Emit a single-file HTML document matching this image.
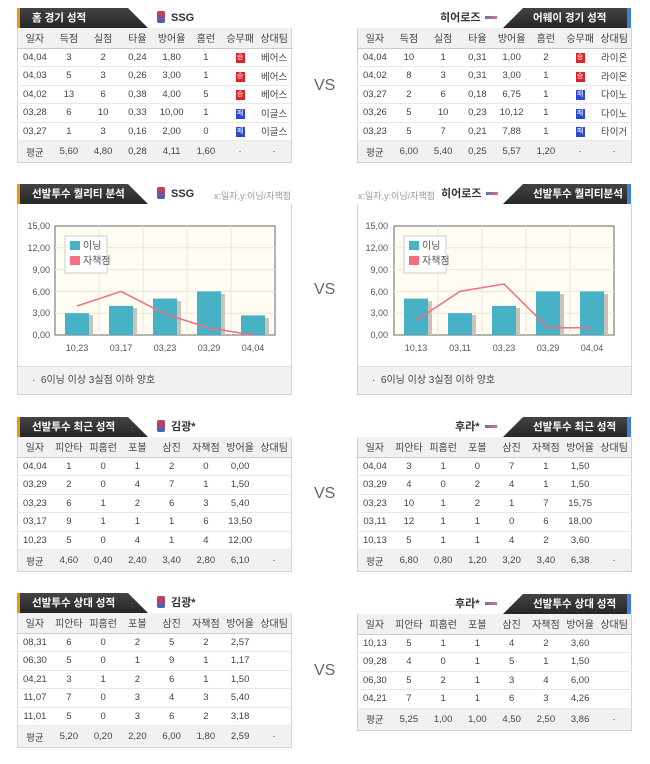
<!DOCTYPE html>
<html><head><meta charset="utf-8">
<style>
*{margin:0;padding:0;box-sizing:border-box}
body{width:650px;height:764px;background:#fff;position:relative;overflow:hidden;font-family:"Liberation Sans","Noto Sans CJK KR",sans-serif;color:#444}
.tabL,.tabR{position:absolute;height:20px;background:linear-gradient(#444,#262626);color:#fff;font-weight:bold;font-size:10.5px;line-height:20px}
.tabL{left:17px;width:131px;clip-path:polygon(0 0,111px 0,131px 20px,0 20px);border-left:3px solid #f39800;padding-left:12px}
.tabR{left:503px;width:128px;clip-path:polygon(20px 0,128px 0,128px 20px,0 20px);border-right:4px solid #3d7fd9;padding-left:30px}
.team{position:absolute;font-size:11px;font-weight:bold;color:#333;line-height:20px}
.ic{display:inline-block;width:8px;height:12px;background:linear-gradient(#e33,#36c);border-radius:2px;vertical-align:-2px;margin-right:6px}
.ln{display:inline-block;width:12px;height:3px;background:linear-gradient(90deg,#57a,#e68);vertical-align:2px;margin-left:5px}
table{position:absolute;border-collapse:collapse;table-layout:fixed;font-size:9.5px;border:1px solid #d4d4d4;border-top:none}
td{text-align:center;height:18.5px;border-bottom:1px solid #e8e8e8;white-space:nowrap;overflow:hidden}
tr.h td{background:#f1f1f1;height:20px;border-bottom:1px solid #ccc;font-size:10px}
tr.a td{background:#f1f1f1;height:22px;border-bottom:none}
.w,.l{display:inline-block;width:9px;height:10px;color:#fff;font-size:7px;line-height:10px}
.w{background:#e0232a}.l{background:#2b47d6}
.vs{position:absolute;left:314px;font-size:16px;color:#666}
.box{position:absolute;border:1px solid #d4d4d4;border-top:none}
.foot{position:absolute;left:0;right:0;bottom:0;height:28px;background:#f1f1f1;border-top:1px solid #ddd;font-size:10px;line-height:28px;padding-left:14px}
.sub{position:absolute;font-size:9px;color:#999;white-space:nowrap}
</style></head><body>

<div class="tabL" style="top:8px">홈 경기 성적</div>
<div class="team" style="left:157px;top:8px"><span class="ic"></span>SSG</div>
<table style="left:17px;top:28px;width:275px">
<tr class="h"><td>일자</td><td>득점</td><td>실점</td><td>타율</td><td>방어율</td><td>홈런</td><td>승무패</td><td>상대팀</td></tr>
<tr><td>04,04</td><td>3</td><td>2</td><td>0,24</td><td>1,80</td><td>1</td><td><span class="w">승</span></td><td>베어스</td></tr>
<tr><td>04,03</td><td>5</td><td>3</td><td>0,26</td><td>3,00</td><td>1</td><td><span class="w">승</span></td><td>베어스</td></tr>
<tr><td>04,02</td><td>13</td><td>6</td><td>0,38</td><td>4,00</td><td>5</td><td><span class="w">승</span></td><td>베어스</td></tr>
<tr><td>03,28</td><td>6</td><td>10</td><td>0,33</td><td>10,00</td><td>1</td><td><span class="l">패</span></td><td>이글스</td></tr>
<tr><td>03,27</td><td>1</td><td>3</td><td>0,16</td><td>2,00</td><td>0</td><td><span class="l">패</span></td><td>이글스</td></tr>
<tr class="a"><td>평균</td><td>5,60</td><td>4,80</td><td>0,28</td><td>4,11</td><td>1,60</td><td>·</td><td>·</td></tr>
</table>
<div class="vs" style="top:77px">VS</div>
<div class="team" style="left:440px;top:8px">히어로즈<span class="ln"></span></div>
<div class="tabR" style="top:8px">어웨이 경기 성적</div>
<table style="left:357px;top:28px;width:275px">
<tr class="h"><td>일자</td><td>득점</td><td>실점</td><td>타율</td><td>방어율</td><td>홈런</td><td>승무패</td><td>상대팀</td></tr>
<tr><td>04,04</td><td>10</td><td>1</td><td>0,31</td><td>1,00</td><td>2</td><td><span class="w">승</span></td><td>라이온</td></tr>
<tr><td>04,02</td><td>8</td><td>3</td><td>0,31</td><td>3,00</td><td>1</td><td><span class="w">승</span></td><td>라이온</td></tr>
<tr><td>03,27</td><td>2</td><td>6</td><td>0,18</td><td>6,75</td><td>1</td><td><span class="l">패</span></td><td>다이노</td></tr>
<tr><td>03,26</td><td>5</td><td>10</td><td>0,23</td><td>10,12</td><td>1</td><td><span class="l">패</span></td><td>다이노</td></tr>
<tr><td>03,23</td><td>5</td><td>7</td><td>0,21</td><td>7,88</td><td>1</td><td><span class="l">패</span></td><td>타이거</td></tr>
<tr class="a"><td>평균</td><td>6,00</td><td>5,40</td><td>0,25</td><td>5,57</td><td>1,20</td><td>·</td><td>·</td></tr>
</table>

<div class="tabL" style="top:184px">선발투수 퀄리티 분석</div>
<div class="team" style="left:157px;top:184px"><span class="ic"></span>SSG</div>
<div class="sub" style="left:214px;top:189px">x:일자,y:이닝/자책점</div>
<div class="box" style="left:17px;top:204px;width:275px;height:191px">
<svg width="275" height="191" style="position:absolute;left:0;top:0" font-family="Liberation Sans, Noto Sans CJK KR, sans-serif" font-size="9" fill="#555">
<rect x="37" y="22" width="220" height="109" fill="#fffcf3" stroke="#999" stroke-width="1.5"/>
<g stroke="#ece6d6"><line x1="37" y1="43.8" x2="257" y2="43.8"/><line x1="37" y1="65.6" x2="257" y2="65.6"/><line x1="37" y1="87.4" x2="257" y2="87.4"/><line x1="37" y1="109.2" x2="257" y2="109.2"/><line x1="81" y1="22" x2="81" y2="131"/><line x1="125" y1="22" x2="125" y2="131"/><line x1="169" y1="22" x2="169" y2="131"/><line x1="213" y1="22" x2="213" y2="131"/></g>
<g text-anchor="end"><text x="32" y="25">15,00</text><text x="32" y="47">12,00</text><text x="32" y="69">9,00</text><text x="32" y="91">6,00</text><text x="32" y="112">3,00</text><text x="32" y="134">0,00</text></g>
<g fill="#c9c3b8"><rect x="51" y="111" width="24" height="20"/><rect x="95" y="104" width="24" height="27"/><rect x="139" y="97" width="24" height="34"/><rect x="183" y="90" width="24" height="41"/><rect x="227" y="114" width="24" height="17"/></g>
<g fill="#47b1c5"><rect x="47" y="109.2" width="24" height="21.8"/><rect x="91" y="101.9" width="24" height="29.1"/><rect x="135" y="94.6" width="24" height="36.4"/><rect x="179" y="87.4" width="24" height="43.6"/><rect x="223" y="111.4" width="24" height="19.6"/></g>
<polyline points="59,102 103,87.4 147,110 191,124 235,131" fill="none" stroke="#f36f7f" stroke-width="1.5"/>
<rect x="47" y="32" width="42" height="37" fill="#fff" stroke="#ccc"/>
<rect x="52" y="37" width="10" height="9" fill="#47b1c5"/><text x="65" y="45" font-size="10">이닝</text>
<rect x="52" y="52" width="10" height="9" fill="#f36f7f"/><text x="65" y="60" font-size="10">자책점</text>
<g text-anchor="middle"><text x="59" y="147">10,23</text><text x="103" y="147">03,17</text><text x="147" y="147">03,23</text><text x="191" y="147">03,29</text><text x="235" y="147">04,04</text></g>
</svg>
<div class="foot">· &nbsp;6이닝 이상 3실점 이하 양호</div>
</div>
<div class="vs" style="top:281px">VS</div>
<div class="sub" style="left:358px;top:189px">x:일자,y:이닝/자책점</div>
<div class="team" style="left:441px;top:184px">히어로즈<span class="ln"></span></div>
<div class="tabR" style="top:184px">선발투수 퀄리티분석</div>
<div class="box" style="left:357px;top:204px;width:275px;height:191px">
<svg width="275" height="191" style="position:absolute;left:0;top:0" font-family="Liberation Sans, Noto Sans CJK KR, sans-serif" font-size="9" fill="#555">
<rect x="36" y="22" width="220" height="109" fill="#fffcf3" stroke="#999" stroke-width="1.5"/>
<g stroke="#ece6d6"><line x1="36" y1="43.8" x2="256" y2="43.8"/><line x1="36" y1="65.6" x2="256" y2="65.6"/><line x1="36" y1="87.4" x2="256" y2="87.4"/><line x1="36" y1="109.2" x2="256" y2="109.2"/><line x1="80" y1="22" x2="80" y2="131"/><line x1="124" y1="22" x2="124" y2="131"/><line x1="168" y1="22" x2="168" y2="131"/><line x1="212" y1="22" x2="212" y2="131"/></g>
<g text-anchor="end"><text x="30" y="25">15,00</text><text x="30" y="47">12,00</text><text x="30" y="69">9,00</text><text x="30" y="91">6,00</text><text x="30" y="112">3,00</text><text x="30" y="134">0,00</text></g>
<g fill="#c9c3b8"><rect x="50" y="97" width="24" height="34"/><rect x="94" y="111" width="24" height="20"/><rect x="138" y="104" width="24" height="27"/><rect x="182" y="90" width="24" height="41"/><rect x="226" y="90" width="24" height="41"/></g>
<g fill="#47b1c5"><rect x="46" y="94.6" width="24" height="36.4"/><rect x="90" y="109.2" width="24" height="21.8"/><rect x="134" y="101.9" width="24" height="29.1"/><rect x="178" y="87.4" width="24" height="43.6"/><rect x="222" y="87.4" width="24" height="43.6"/></g>
<polyline points="58,116.5 102,87.4 146,80 190,123.7 234,123.7" fill="none" stroke="#f36f7f" stroke-width="1.5"/>
<rect x="46" y="32" width="42" height="37" fill="#fff" stroke="#ccc"/>
<rect x="51" y="37" width="10" height="9" fill="#47b1c5"/><text x="64" y="45" font-size="10">이닝</text>
<rect x="51" y="52" width="10" height="9" fill="#f36f7f"/><text x="64" y="60" font-size="10">자책점</text>
<g text-anchor="middle"><text x="58" y="147">10,13</text><text x="102" y="147">03,11</text><text x="146" y="147">03,23</text><text x="190" y="147">03,29</text><text x="234" y="147">04,04</text></g>
</svg>
<div class="foot">· &nbsp;6이닝 이상 3실점 이하 양호</div>
</div>

<div class="tabL" style="top:417px">선발투수 최근 성적</div>
<div class="team" style="left:157px;top:417px"><span class="ic"></span>김광*</div>
<table style="left:17px;top:437px;width:275px">
<tr class="h"><td>일자</td><td>피안타</td><td>피홈런</td><td>포볼</td><td>삼진</td><td>자책점</td><td>방어율</td><td>상대팀</td></tr>
<tr><td>04,04</td><td>1</td><td>0</td><td>1</td><td>2</td><td>0</td><td>0,00</td><td></td></tr>
<tr><td>03,29</td><td>2</td><td>0</td><td>4</td><td>7</td><td>1</td><td>1,50</td><td></td></tr>
<tr><td>03,23</td><td>6</td><td>1</td><td>2</td><td>6</td><td>3</td><td>5,40</td><td></td></tr>
<tr><td>03,17</td><td>9</td><td>1</td><td>1</td><td>1</td><td>6</td><td>13,50</td><td></td></tr>
<tr><td>10,23</td><td>5</td><td>0</td><td>4</td><td>1</td><td>4</td><td>12,00</td><td></td></tr>
<tr class="a"><td>평균</td><td>4,60</td><td>0,40</td><td>2,40</td><td>3,40</td><td>2,80</td><td>6,10</td><td>·</td></tr>
</table>
<div class="vs" style="top:485px">VS</div>
<div class="team" style="left:455px;top:417px">후라*<span class="ln"></span></div>
<div class="tabR" style="top:417px">선발투수 최근 성적</div>
<table style="left:357px;top:437px;width:275px">
<tr class="h"><td>일자</td><td>피안타</td><td>피홈런</td><td>포볼</td><td>삼진</td><td>자책점</td><td>방어율</td><td>상대팀</td></tr>
<tr><td>04,04</td><td>3</td><td>1</td><td>0</td><td>7</td><td>1</td><td>1,50</td><td></td></tr>
<tr><td>03,29</td><td>4</td><td>0</td><td>2</td><td>4</td><td>1</td><td>1,50</td><td></td></tr>
<tr><td>03,23</td><td>10</td><td>1</td><td>2</td><td>1</td><td>7</td><td>15,75</td><td></td></tr>
<tr><td>03,11</td><td>12</td><td>1</td><td>1</td><td>0</td><td>6</td><td>18,00</td><td></td></tr>
<tr><td>10,13</td><td>5</td><td>1</td><td>1</td><td>4</td><td>2</td><td>3,60</td><td></td></tr>
<tr class="a"><td>평균</td><td>6,80</td><td>0,80</td><td>1,20</td><td>3,20</td><td>3,40</td><td>6,38</td><td>·</td></tr>
</table>

<div class="tabL" style="top:593px">선발투수 상대 성적</div>
<div class="team" style="left:157px;top:593px"><span class="ic"></span>김광*</div>
<table style="left:17px;top:613px;width:275px">
<tr class="h"><td>일자</td><td>피안타</td><td>피홈런</td><td>포볼</td><td>삼진</td><td>자책점</td><td>방어율</td><td>상대팀</td></tr>
<tr><td>08,31</td><td>6</td><td>0</td><td>2</td><td>5</td><td>2</td><td>2,57</td><td></td></tr>
<tr><td>06,30</td><td>5</td><td>0</td><td>1</td><td>9</td><td>1</td><td>1,17</td><td></td></tr>
<tr><td>04,21</td><td>3</td><td>1</td><td>2</td><td>6</td><td>1</td><td>1,50</td><td></td></tr>
<tr><td>11,07</td><td>7</td><td>0</td><td>3</td><td>4</td><td>3</td><td>5,40</td><td></td></tr>
<tr><td>11,01</td><td>5</td><td>0</td><td>3</td><td>6</td><td>2</td><td>3,18</td><td></td></tr>
<tr class="a"><td>평균</td><td>5,20</td><td>0,20</td><td>2,20</td><td>6,00</td><td>1,80</td><td>2,59</td><td>·</td></tr>
</table>
<div class="vs" style="top:662px">VS</div>
<div class="team" style="left:455px;top:594px">후라*<span class="ln"></span></div>
<div class="tabR" style="top:594px">선발투수 상대 성적</div>
<table style="left:357px;top:614px;width:275px">
<tr class="h"><td>일자</td><td>피안타</td><td>피홈런</td><td>포볼</td><td>삼진</td><td>자책점</td><td>방어율</td><td>상대팀</td></tr>
<tr><td>10,13</td><td>5</td><td>1</td><td>1</td><td>4</td><td>2</td><td>3,60</td><td></td></tr>
<tr><td>09,28</td><td>4</td><td>0</td><td>1</td><td>5</td><td>1</td><td>1,50</td><td></td></tr>
<tr><td>06,30</td><td>5</td><td>2</td><td>1</td><td>3</td><td>4</td><td>6,00</td><td></td></tr>
<tr><td>04,21</td><td>7</td><td>1</td><td>1</td><td>6</td><td>3</td><td>4,26</td><td></td></tr>
<tr class="a"><td>평균</td><td>5,25</td><td>1,00</td><td>1,00</td><td>4,50</td><td>2,50</td><td>3,86</td><td>·</td></tr>
</table>
</body></html>
